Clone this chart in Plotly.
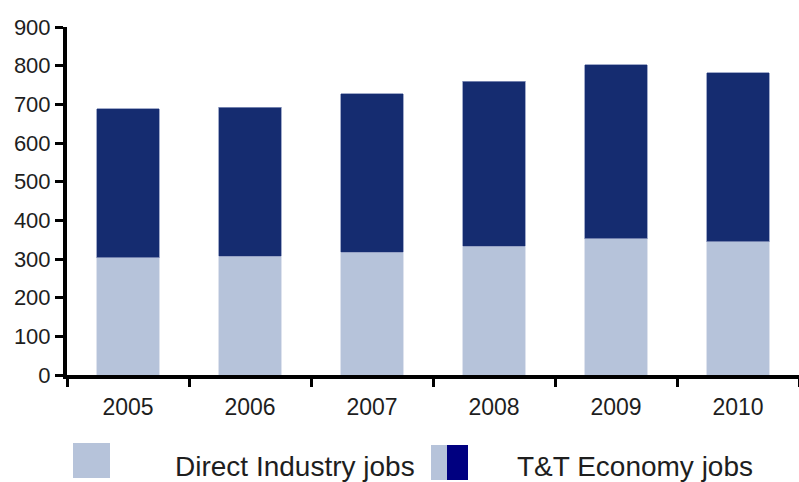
import plotly.graph_objects as go

years = ["2005", "2006", "2007", "2008", "2009", "2010"]
direct_jobs = [303, 307, 318, 333, 352, 344]
economy_extra = [386, 385, 409, 427, 450, 438]
y_ticks = [0, 100, 200, 300, 400, 500, 600, 700, 800, 900]

LIGHT = "#B6C3DA"
DARK = "#152C70"
NAVY = "#000080"
FONT = "Liberation Sans, Arial, sans-serif"
TXT = "#1e1e1e"

fig = go.Figure()
fig.add_trace(go.Bar(x=years, y=direct_jobs, name="Direct Industry jobs",
                     marker=dict(color=LIGHT, line=dict(color="#d6dcea", width=0.8))))
fig.add_trace(go.Bar(x=years, y=economy_extra, name="T&T Economy jobs",
                     marker=dict(color=DARK, line=dict(color="#8a96bd", width=0.8))))

W, H = 799, 482
L, R, T, B = 67, 0, 27, 107
pw, ph = W - L - R, H - T - B

def px(x):
    return (x - L) / pw

def py(y):
    return (H - B - y) / ph

shapes = [
    dict(type="rect", xref="paper", yref="paper", x0=px(73), x1=px(110), y0=py(478), y1=py(443),
         fillcolor=LIGHT, line=dict(width=0), layer="above"),
    dict(type="rect", xref="paper", yref="paper", x0=px(431), x1=px(447), y0=py(480), y1=py(445),
         fillcolor=LIGHT, line=dict(width=0), layer="above"),
    dict(type="rect", xref="paper", yref="paper", x0=px(447), x1=px(468), y0=py(480), y1=py(445),
         fillcolor=NAVY, line=dict(width=0), layer="above"),
]
annotations = [
    dict(text="Direct Industry jobs", xref="paper", yref="paper", x=px(173), y=py(466),
         xanchor="left", yanchor="middle", showarrow=False,
         font=dict(family=FONT, size=28, color=TXT)),
    dict(text="T&T Economy jobs", xref="paper", yref="paper", x=px(515), y=py(466),
         xanchor="left", yanchor="middle", showarrow=False,
         font=dict(family=FONT, size=28, color=TXT)),
]

fig.update_layout(
    barmode="stack",
    bargap=0.485,
    width=W, height=H,
    margin=dict(l=L, r=R, t=T, b=B, pad=0),
    plot_bgcolor="white", paper_bgcolor="white",
    showlegend=False,
    shapes=shapes,
    annotations=annotations,
    font=dict(family=FONT, color=TXT),
    xaxis=dict(
        type="category", tickson="boundaries",
        showline=True, linecolor="black", linewidth=4,
        ticks="outside", ticklen=8, tickwidth=3, tickcolor="black",
        showgrid=False, zeroline=False, ticklabelstandoff=8,
        tickfont=dict(family=FONT, size=23, color=TXT),
    ),
    yaxis=dict(
        range=[0, 900], tickvals=y_ticks,
        showline=True, linecolor="black", linewidth=4,
        ticks="outside", ticklen=8, tickwidth=3, tickcolor="black",
        showgrid=False, zeroline=False,
        tickfont=dict(family=FONT, size=22, color=TXT),
    ),
)

fig.write_html("out.html", config={"displayModeBar": False},
               post_script="document.body.style.margin='0px';document.body.style.overflow='hidden';")
